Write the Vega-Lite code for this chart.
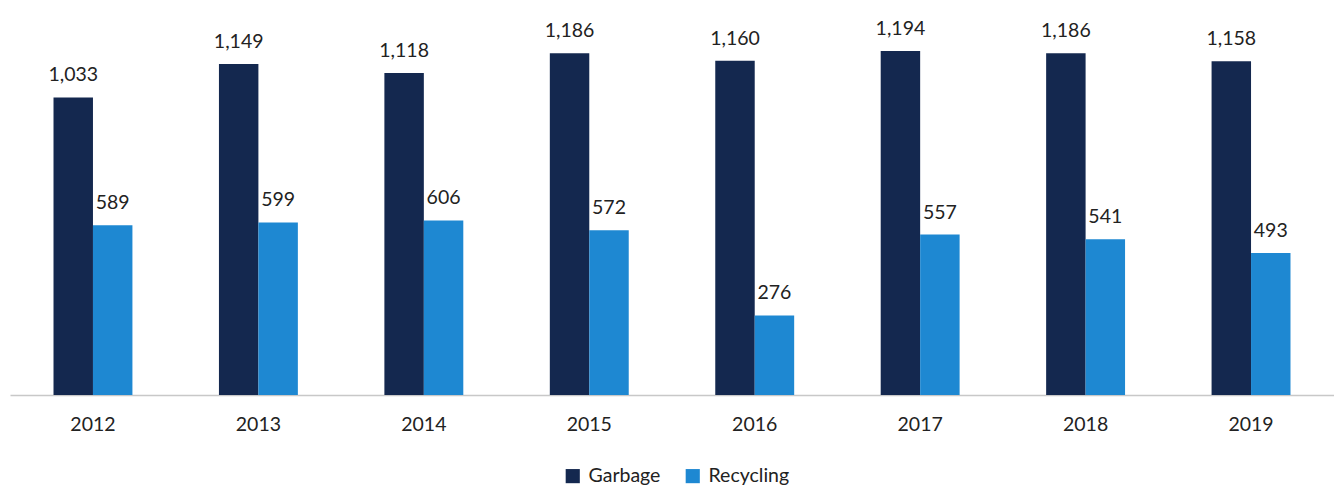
{
  "$schema": "https://vega.github.io/schema/vega-lite/v6.json",
  "width": 1324,
  "height": 395,
  "autosize": {"type": "none"},
  "padding": {"left": 10, "top": 0, "right": 0, "bottom": 92},
  "background": "white",
  "config": {"view": {"stroke": null}, "font": "Lato"},
  "data": {"values": [
    {"year": "2012", "type": "Garbage", "tons": 1033},
    {"year": "2012", "type": "Recycling", "tons": 589},
    {"year": "2013", "type": "Garbage", "tons": 1149},
    {"year": "2013", "type": "Recycling", "tons": 599},
    {"year": "2014", "type": "Garbage", "tons": 1118},
    {"year": "2014", "type": "Recycling", "tons": 606},
    {"year": "2015", "type": "Garbage", "tons": 1186},
    {"year": "2015", "type": "Recycling", "tons": 572},
    {"year": "2016", "type": "Garbage", "tons": 1160},
    {"year": "2016", "type": "Recycling", "tons": 276},
    {"year": "2017", "type": "Garbage", "tons": 1194},
    {"year": "2017", "type": "Recycling", "tons": 557},
    {"year": "2018", "type": "Garbage", "tons": 1186},
    {"year": "2018", "type": "Recycling", "tons": 541},
    {"year": "2019", "type": "Garbage", "tons": 1158},
    {"year": "2019", "type": "Recycling", "tons": 493}
  ]},
  "encoding": {
    "x": {"field": "year", "type": "nominal", "scale": {"paddingInner": 0.523, "paddingOuter": 0.263},
      "axis": {"title": null, "labelAngle": 0, "labelFontSize": 19.5, "labelColor": "#222", "labelPadding": 20, "ticks": false, "domainColor": "#c8c8c8", "domainWidth": 1.5}},
    "xOffset": {"field": "type", "type": "nominal", "sort": ["Garbage", "Recycling"], "scale": {"paddingInner": 0, "paddingOuter": 0}},
    "y": {"field": "tons", "type": "quantitative", "scale": {"domain": [0, 1371]}, "axis": null}
  },
  "layer": [
    {"mark": {"type": "bar"},
     "encoding": {"color": {"field": "type", "type": "nominal", "scale": {"domain": ["Garbage", "Recycling"], "range": ["#14284f", "#1e88d2"]},
       "legend": {"title": null, "orient": "none", "legendX": 553, "legendY": 466, "direction": "horizontal", "symbolType": "square", "symbolSize": 200, "symbolStrokeWidth": 0, "labelFontSize": 19.5, "labelColor": "#222", "columnPadding": 22, "labelOffset": 6}}}},
    {"mark": {"type": "text", "baseline": "bottom", "dy": -12, "fontSize": 19.5, "color": "#222"},
     "encoding": {"text": {"field": "tons", "type": "quantitative", "format": ","}}}
  ]
}
